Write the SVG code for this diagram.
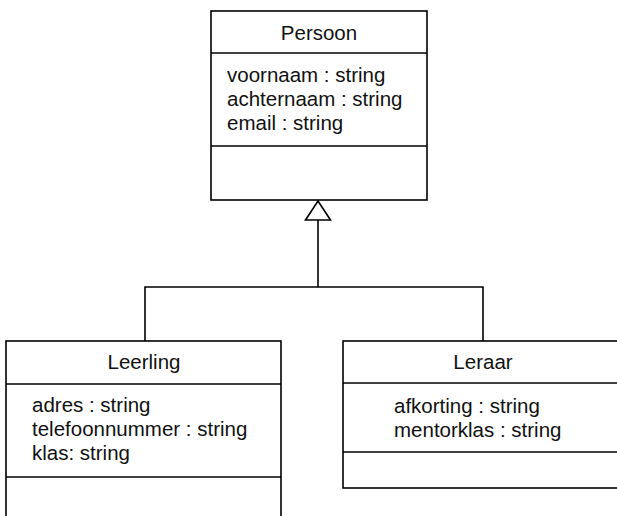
<svg xmlns="http://www.w3.org/2000/svg" width="617" height="516" viewBox="0 0 617 516">
<style>
.box{fill:#fff;stroke:#000;stroke-width:1.6}
.ln{stroke:#000;stroke-width:1.6;fill:none}
text{font-family:"Liberation Sans",Arial,sans-serif;font-size:20.5px;fill:#111}
.c{text-anchor:middle}
</style>
<rect width="617" height="516" fill="#fff"/>
<g id="connectors">
<path class="ln" d="M145 341 V287 H483 V341"/>
<path class="ln" d="M318 287 V220"/>
<polygon points="318,201 305.5,220 330.5,220" fill="#fff" stroke="#000" stroke-width="1.6"/>
</g>
<g id="Persoon">
<rect class="box" x="211" y="11" width="216" height="189"/>
<line class="ln" x1="211" y1="53" x2="427" y2="53"/>
<line class="ln" x1="211" y1="146" x2="427" y2="146"/>
<text class="c" x="319" y="40">Persoon</text>
<text x="227" y="82">voornaam : string</text>
<text x="227" y="106">achternaam : string</text>
<text x="227" y="130">email : string</text>
</g>
<g id="Leerling">
<rect class="box" x="6" y="341" width="275" height="190"/>
<line class="ln" x1="6" y1="384" x2="281" y2="384"/>
<line class="ln" x1="6" y1="477" x2="281" y2="477"/>
<text class="c" x="144" y="369">Leerling</text>
<text x="32" y="412">adres : string</text>
<text x="32" y="436">telefoonnummer : string</text>
<text x="32" y="460">klas: string</text>
</g>
<g id="Leraar">
<rect class="box" x="343" y="341" width="290" height="147"/>
<line class="ln" x1="343" y1="383" x2="633" y2="383"/>
<line class="ln" x1="343" y1="452" x2="633" y2="452"/>
<text class="c" x="483" y="369">Leraar</text>
<text x="394" y="413">afkorting : string</text>
<text x="394" y="437">mentorklas : string</text>
</g>
</svg>
